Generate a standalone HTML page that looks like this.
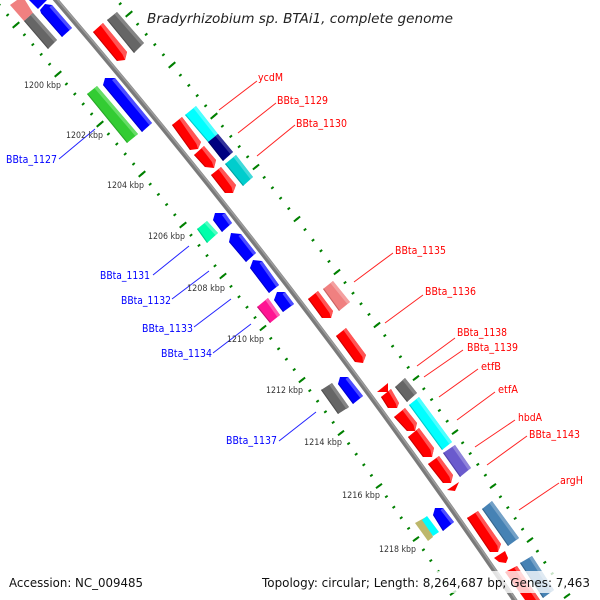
<!DOCTYPE html>
<html><head><meta charset="utf-8"><style>
html,body{margin:0;padding:0;background:#fff}
svg{display:block}
.k{font:9px "DejaVu Sans",sans-serif;fill:#333}
.r{font:11px "DejaVu Sans",sans-serif;fill:#f00}
.b{font:11px "DejaVu Sans",sans-serif;fill:#00f}
.f{font:12.5px "DejaVu Sans",sans-serif;fill:#111}
.d{fill:none;stroke:#008000;stroke-width:3}
</style></head><body>
<svg width="600" height="600" viewBox="0 0 600 600" xmlns="http://www.w3.org/2000/svg">
<!-- minor ticks -->
<g>
<path class="d" pathLength="1" style="stroke-dasharray:.03 .17;stroke-dashoffset:.015" d="M-26,-25L16,25"/>
<path class="d" pathLength="1" style="stroke-dasharray:.03 .17;stroke-dashoffset:.015" d="M16,25L58,74"/>
<path class="d" pathLength="1" style="stroke-dasharray:.03 .17;stroke-dashoffset:.015" d="M58,74L100,124"/>
<path class="d" pathLength="1" style="stroke-dasharray:.03 .17;stroke-dashoffset:.015" d="M100,124L142,174"/>
<path class="d" pathLength="1" style="stroke-dasharray:.03 .17;stroke-dashoffset:.015" d="M142,174L183,225"/>
<path class="d" pathLength="1" style="stroke-dasharray:.03 .17;stroke-dashoffset:.015" d="M183,225L223,276"/>
<path class="d" pathLength="1" style="stroke-dasharray:.03 .17;stroke-dashoffset:.015" d="M223,276L263,328"/>
<path class="d" pathLength="1" style="stroke-dasharray:.03 .17;stroke-dashoffset:.015" d="M263,328L302,380"/>
<path class="d" pathLength="1" style="stroke-dasharray:.03 .17;stroke-dashoffset:.015" d="M302,380L341,433"/>
<path class="d" pathLength="1" style="stroke-dasharray:.03 .17;stroke-dashoffset:.015" d="M341,433L379,486"/>
<path class="d" pathLength="1" style="stroke-dasharray:.03 .17;stroke-dashoffset:.015" d="M379,486L416,539"/>
<path class="d" pathLength="1" style="stroke-dasharray:.03 .17;stroke-dashoffset:.015" d="M416,539L453,593"/>
<path class="d" pathLength="1" style="stroke-dasharray:.03 .17;stroke-dashoffset:.015" d="M85,-37L129,14"/>
<path class="d" pathLength="1" style="stroke-dasharray:.03 .17;stroke-dashoffset:.015" d="M129,14L172,65"/>
<path class="d" pathLength="1" style="stroke-dasharray:.03 .17;stroke-dashoffset:.015" d="M172,65L214,116"/>
<path class="d" pathLength="1" style="stroke-dasharray:.03 .17;stroke-dashoffset:.015" d="M214,116L256,167"/>
<path class="d" pathLength="1" style="stroke-dasharray:.03 .17;stroke-dashoffset:.015" d="M256,167L297,219"/>
<path class="d" pathLength="1" style="stroke-dasharray:.03 .17;stroke-dashoffset:.015" d="M297,219L337,272"/>
<path class="d" pathLength="1" style="stroke-dasharray:.03 .17;stroke-dashoffset:.015" d="M337,272L377,325"/>
<path class="d" pathLength="1" style="stroke-dasharray:.03 .17;stroke-dashoffset:.015" d="M377,325L416,378"/>
<path class="d" pathLength="1" style="stroke-dasharray:.03 .17;stroke-dashoffset:.015" d="M416,378L455,432"/>
<path class="d" pathLength="1" style="stroke-dasharray:.03 .17;stroke-dashoffset:.015" d="M455,432L493,486"/>
<path class="d" pathLength="1" style="stroke-dasharray:.03 .17;stroke-dashoffset:.015" d="M493,486L530,540"/>
<path class="d" pathLength="1" style="stroke-dasharray:.03 .17;stroke-dashoffset:.015" d="M530,540L567,596"/>
</g>
<!-- major ticks -->
<g stroke="#008000" stroke-width="2" fill="none">
<path d="M12.7,27.8L19.3,22.2M54.7,76.8L61.3,71.2M96.7,126.8L103.3,121.2M138.7,176.8L145.3,171.2M179.7,227.7L186.3,222.3M219.8,278.6L226.2,273.4M259.9,330.5L266.1,325.5M298.9,382.4L305.1,377.6M338,435.3L344,430.7M376,488.2L382,483.8M413,541.2L419,536.8M450,595.2L456,590.8"/>
<path d="M125.7,16.8L132.3,11.2M168.7,67.8L175.3,62.2M210.7,118.8L217.3,113.2M252.9,169.5L259.1,164.5M293.9,221.5L300.1,216.5M333.9,274.4L340.1,269.6M373.9,327.4L380.1,322.6M413,380.3L419,375.7M452,434.2L458,429.8M490,488.2L496,483.8M527,542.2L533,537.8M564,598.2L570,593.8"/>
</g>
<!-- backbone -->
<path d="M50,-7A6800,6800 0 0 1 520,608" fill="none" stroke="#7a7a7a" stroke-width="5"/>
<path d="M51,-7.8A6800,6800 0 0 1 521,607.2" fill="none" stroke="#9c9c9c" stroke-width="1.6"/>
<!-- genes -->
<g>
<polygon fill="#f08080" points="10,5 17,0 25,0 33,13 24,21"/>
<polygon fill="#666" points="24,21 33,13 57,40 48,49"/><polygon fill="#858585" points="33,13 57,40 54.4,42.1 30.4,15.1"/>
<polygon fill="#00f" points="29,0 47,0 38,9"/>
<polygon fill="#00f" points="40,10 45,4 52,5 72,28 62,37 41,13"/><polygon fill="#4d4dff" points="52,5 72,28 69.4,30.1 49.4,7.1"/>
<polygon fill="#f00" points="93,32 103,23 127,52 125,60 117,61"/><polygon fill="#f55" points="103,23 127,52 125,60 122.5,54.5 100.4,25.1"/>
<polygon fill="#666" points="107,20 117,12 144,43 134,53"/><polygon fill="#858585" points="117,12 144,43 141.4,45.1 114.4,14.1"/>
<polygon fill="#3c3" points="87,94 97,86 138,134 127,143"/><polygon fill="#6d6" points="97,86 138,134 135.4,136.1 94.4,88.1"/>
<polygon fill="#00f" points="103,85 105,78 115,78 152,123 142,132"/><polygon fill="#4d4dff" points="115,78 152,123 149.4,125.1 112,80"/>
<polygon fill="#0ff" points="185,115 196,106 218,134 208,142"/><polygon fill="#4dffff" points="196,106 218,134 215.4,136.1 193.4,108.1"/>
<polygon fill="#f00" points="172,125 182,117 201,142 198,149 190,150"/><polygon fill="#f55" points="182,117 201,142 198,149 196.5,144 179.4,119.1"/>
<polygon fill="#000080" points="208,142 218,134 233,152 223,161"/><polygon fill="#33339a" points="218,134 233,152 230.4,154.1 215.4,136.1"/>
<polygon fill="#f00" points="194,155 204,146 216,160 214,168 205,167"/><polygon fill="#f55" points="204,146 216,160 214,168 212,162 201.4,148.1"/>
<polygon fill="#00cdcd" points="225,164 236,155 253,177 243,186"/><polygon fill="#40dada" points="236,155 253,177 250.4,179.1 233.4,157.1"/>
<polygon fill="#f00" points="211,175 221,167 236,185 233,193 225,193"/><polygon fill="#f55" points="221,167 236,185 233,193 231.5,187 218.4,169.1"/>
<polygon fill="#0fa" points="197,229 207,221 218,233 207,243"/><polygon fill="#4dffc0" points="207,221 218,233 215.4,235.1 204.4,223.1"/>
<polygon fill="#00f" points="213,220 215,213 225,213 232,223 222,232"/><polygon fill="#4d4dff" points="225,213 232,223 229.4,225.1 222,215"/>
<polygon fill="#00f" points="229,242 231,233 241,234 256,253 246,262"/><polygon fill="#4d4dff" points="241,234 256,253 253.4,255.1 238.5,236"/>
<polygon fill="#00f" points="250,268 253,260 262,261 279,285 269,293"/><polygon fill="#4d4dff" points="262,261 279,285 276.4,287.1 259.5,263"/>
<polygon fill="#00f" points="274,300 277,292 285,292 294,304 283,312"/><polygon fill="#4d4dff" points="285,292 294,304 291.4,306.1 282.5,294"/>
<polygon fill="#ff1493" points="257,307 268,298 280,315 270,323"/><polygon fill="#ff5ab0" points="268,298 280,315 277.4,317.1 265.4,300.1"/>
<polygon fill="#f00" points="308,299 318,291 333,311 331,318 322,318"/><polygon fill="#f55" points="318,291 333,311 331,318 329.5,313 315.4,293.1"/>
<polygon fill="#f08080" points="323,289 333,281 350,302 339,311"/><polygon fill="#f4a0a0" points="333,281 350,302 347.4,304.1 330.4,283.1"/>
<polygon fill="#f00" points="336,336 346,328 366,355 363,363 355,362"/><polygon fill="#f55" points="346,328 366,355 363,363 362.5,357 343.4,330.1"/>
<polygon fill="#666" points="321,390 332,383 349,407 338,414"/><polygon fill="#858585" points="332,383 349,407 346.4,409.1 329.4,385.1"/>
<polygon fill="#00f" points="338,384 340,377 348,377 363,396 353,404"/><polygon fill="#4d4dff" points="348,377 363,396 360.4,398.1 345.5,379"/>
<polygon fill="#f00" points="377,392 388,383 388,392"/>
<polygon fill="#f00" points="381,397 391,389 399,403 397,408 388,408"/><polygon fill="#f55" points="391,389 399,403 397,408 396,404 388.4,391.1"/>
<polygon fill="#666" points="395,387 405,378 417,393 407,402"/><polygon fill="#858585" points="405,378 417,393 414.4,395.1 402.4,380.1"/>
<polygon fill="#0ff" points="409,405 419,397 452,442 442,450"/><polygon fill="#4dffff" points="419,397 452,442 449.4,444.1 416.4,399.1"/>
<polygon fill="#f00" points="394,417 405,408 417,423 415,431 407,431"/><polygon fill="#f55" points="405,408 417,423 415,431 413.5,425 402.4,410.1"/>
<polygon fill="#f00" points="408,437 419,428 434,448 432,457 423,457"/><polygon fill="#f55" points="419,428 434,448 432,457 430.5,450 416.4,430.1"/>
<polygon fill="#6a5acd" points="443,453 455,445 471,468 460,477"/><polygon fill="#8f83da" points="455,445 471,468 468.4,470.1 452.4,447.1"/>
<polygon fill="#f00" points="428,464 439,456 453,475 451,483 443,483"/><polygon fill="#f55" points="439,456 453,475 451,483 449.5,477 436.4,458.1"/>
<polygon fill="#f00" points="447,490 459,482 455,491"/>
<polygon fill="#4682b4" points="482,509 492,501 519,538 508,546"/><polygon fill="#74a1c7" points="492,501 519,538 516.4,540.1 489.4,503.1"/>
<polygon fill="#f00" points="467,518 478,511 501,544 498,552 490,552"/><polygon fill="#f55" points="478,511 501,544 498,552 497.5,546 475.4,513.1"/>
<polygon fill="#f00" points="494,558 505,551 508,558 506,563 499,562"/>
<polygon fill="#4682b4" points="520,563 532,556 554,590 543,598"/><polygon fill="#74a1c7" points="532,556 554,590 551.4,592.1 529.4,558.1"/>
<polygon fill="#f00" points="505,572 517,566 540,600 525,600"/><polygon fill="#f55" points="517,566 540,600 536,600 514.4,568.1"/>
<polygon fill="#bdb76b" points="415,523 426,517 433,537 428,541"/>
<polygon fill="#0ff" points="422,520 427,516 439,532 433,536"/>
<polygon fill="#00f" points="433,515 435,508 443,508 454,522 443,531"/><polygon fill="#4d4dff" points="443,508 454,522 451.4,524.1 440.5,510"/>
</g>
<!-- darker lower edges of genes -->
<g fill="none" stroke-width="1" transform="translate(.4,-.3)">
<path stroke="#c80000" d="M93,32L117,61M172,125L190,150M194,155L205,167M211,175L225,193M308,299L322,318M336,336L355,362M381,397L388,408M394,417L407,431M408,437L423,457M428,464L443,483M467,518L490,552"/>
<path stroke="#0000c8" d="M41,13L62,37M103,85L142,132M213,220L222,232M229,242L246,262M250,268L269,293M274,300L283,312M338,384L353,404M433,515L443,531"/>
<path stroke="#4f4f4f" d="M24,21L48,49M107,20L134,53M321,390L338,414M395,387L407,402"/>
<path stroke="#00c8c8" d="M185,115L208,142M409,405L442,450"/>
<path stroke="#28a428" d="M87,94L127,143"/>
<path stroke="#c01070" d="M257,307L270,323"/>
<path stroke="#c86060" d="M323,289L339,311"/>
<path stroke="#36648b" d="M482,509L508,546M520,563L543,598"/>
<path stroke="#5040a8" d="M443,453L460,477"/>
<path stroke="#00a0a0" d="M225,164L243,186"/>
<path stroke="#000060" d="M208,142L223,161"/>
<path stroke="#00cc88" d="M197,229L207,243"/>
</g>
<!-- label lines -->
<g stroke="#f22" stroke-width="1" fill="none">
<path d="M219,110L257,81M238,133L276,103M257,156L295,125M354,282L393,253M385,323L423,295M417,366L455,338M424,377L463,350M439,397L478,369M457,420L495,392M475,447L515,420M487,465L527,436M519,510L559,483"/>
</g>
<g stroke="#22f" stroke-width="1" fill="none">
<path d="M59,159L95,129M153,275L189,246M172,299L209,271M194,327L231,299M213,353L251,324M279,441L316,412"/>
</g>
<!-- labels -->
<g>
<text class="r" x="258" y="81" textLength="25" lengthAdjust="spacingAndGlyphs">ycdM</text>
<text class="r" x="277" y="104" textLength="51" lengthAdjust="spacingAndGlyphs">BBta_1129</text>
<text class="r" x="296" y="127" textLength="51" lengthAdjust="spacingAndGlyphs">BBta_1130</text>
<text class="r" x="395" y="254" textLength="51" lengthAdjust="spacingAndGlyphs">BBta_1135</text>
<text class="r" x="425" y="295" textLength="51" lengthAdjust="spacingAndGlyphs">BBta_1136</text>
<text class="r" x="457" y="336" textLength="50" lengthAdjust="spacingAndGlyphs">BBta_1138</text>
<text class="r" x="467" y="351" textLength="51" lengthAdjust="spacingAndGlyphs">BBta_1139</text>
<text class="r" x="481" y="370" textLength="20" lengthAdjust="spacingAndGlyphs">etfB</text>
<text class="r" x="498" y="393" textLength="20" lengthAdjust="spacingAndGlyphs">etfA</text>
<text class="r" x="518" y="421" textLength="24" lengthAdjust="spacingAndGlyphs">hbdA</text>
<text class="r" x="529" y="438" textLength="51" lengthAdjust="spacingAndGlyphs">BBta_1143</text>
<text class="r" x="560" y="484" textLength="23" lengthAdjust="spacingAndGlyphs">argH</text>
</g>
<g>
<text class="b" x="6" y="163" textLength="51" lengthAdjust="spacingAndGlyphs">BBta_1127</text>
<text class="b" x="100" y="279" textLength="50" lengthAdjust="spacingAndGlyphs">BBta_1131</text>
<text class="b" x="121" y="304" textLength="50" lengthAdjust="spacingAndGlyphs">BBta_1132</text>
<text class="b" x="142" y="332" textLength="51" lengthAdjust="spacingAndGlyphs">BBta_1133</text>
<text class="b" x="161" y="357" textLength="51" lengthAdjust="spacingAndGlyphs">BBta_1134</text>
<text class="b" x="226" y="444" textLength="51" lengthAdjust="spacingAndGlyphs">BBta_1137</text>
</g>
<g>
<text class="k" x="24" y="88" textLength="37" lengthAdjust="spacingAndGlyphs">1200 kbp</text>
<text class="k" x="66" y="138" textLength="37" lengthAdjust="spacingAndGlyphs">1202 kbp</text>
<text class="k" x="107" y="188" textLength="37" lengthAdjust="spacingAndGlyphs">1204 kbp</text>
<text class="k" x="148" y="239" textLength="37" lengthAdjust="spacingAndGlyphs">1206 kbp</text>
<text class="k" x="187" y="291" textLength="38" lengthAdjust="spacingAndGlyphs">1208 kbp</text>
<text class="k" x="227" y="342" textLength="37" lengthAdjust="spacingAndGlyphs">1210 kbp</text>
<text class="k" x="266" y="393" textLength="37" lengthAdjust="spacingAndGlyphs">1212 kbp</text>
<text class="k" x="304" y="445" textLength="38" lengthAdjust="spacingAndGlyphs">1214 kbp</text>
<text class="k" x="342" y="498" textLength="38" lengthAdjust="spacingAndGlyphs">1216 kbp</text>
<text class="k" x="379" y="552" textLength="37" lengthAdjust="spacingAndGlyphs">1218 kbp</text>
</g>
<text x="147" y="23" textLength="306" lengthAdjust="spacingAndGlyphs" style="font:italic 13.5px 'DejaVu Sans',sans-serif;fill:#222">Bradyrhizobium sp. BTAi1, complete genome</text>
<!-- footer -->
<rect x="258" y="571" width="342" height="22" fill="#fff" fill-opacity=".78"/>
<text class="f" x="9" y="587" textLength="134" lengthAdjust="spacingAndGlyphs">Accession: NC_009485</text>
<text class="f" x="262" y="587" textLength="328" lengthAdjust="spacingAndGlyphs">Topology: circular; Length: 8,264,687 bp; Genes: 7,463</text>
</svg>
</body></html>
